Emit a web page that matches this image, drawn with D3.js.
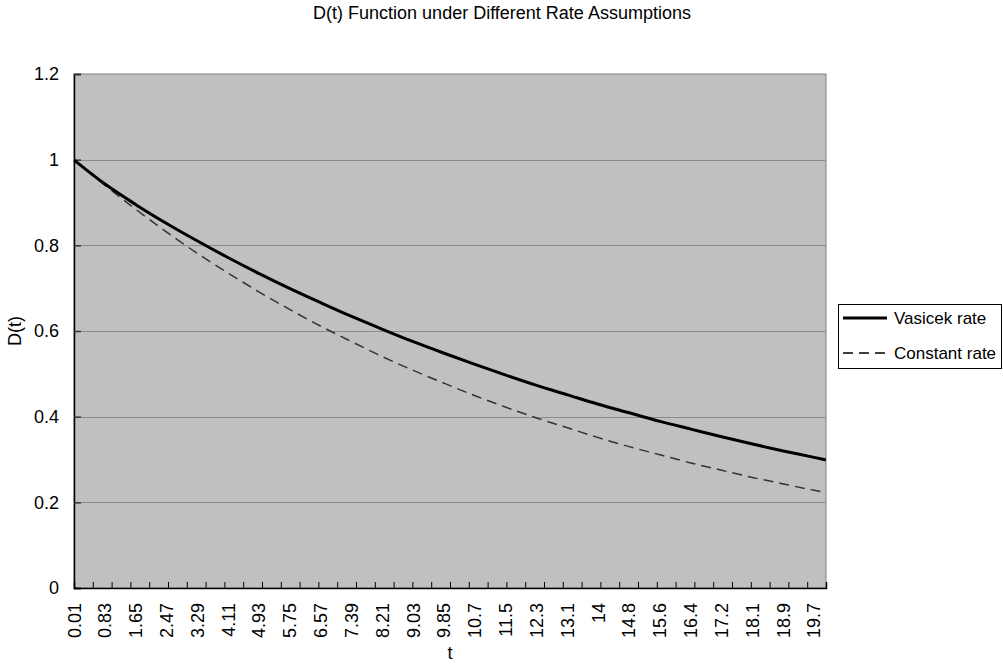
<!DOCTYPE html>
<html lang="en">
<head>
  <meta charset="UTF-8">
  <title>D(t) Function under Different Rate Assumptions</title>
  <script src="https://d3js.org/d3.v7.min.js"></script>
  <style>
    body { margin: 0; background: #fff; }
    text { font-family: "Liberation Sans", Arial, sans-serif; fill: #000; }
  </style>
</head>
<body>
  <svg width="1003" height="664"></svg>

  <script>
    const tValues = [0.01, 0.83, 1.65, 2.47, 3.29, 4.11, 4.93, 5.75, 6.57, 7.39, 8.21, 9.03, 9.85,
      10.67, 11.49, 12.31, 13.13, 13.95, 14.77, 15.59, 16.41, 17.23, 18.05, 18.87, 19.69, 20.0];

    // D(t), Vasicek rate
    const vasicek = [0.999, 0.943, 0.895, 0.851, 0.810, 0.771, 0.734, 0.699, 0.666, 0.634, 0.604, 0.575, 0.548,
      0.522, 0.497, 0.473, 0.451, 0.429, 0.409, 0.389, 0.371, 0.353, 0.336, 0.320, 0.305, 0.299];

    // D(t), constant rate
    const constant = [0.999, 0.940, 0.884, 0.831, 0.781, 0.735, 0.691, 0.650, 0.611, 0.575, 0.540, 0.508, 0.478,
      0.449, 0.422, 0.397, 0.374, 0.351, 0.330, 0.311, 0.292, 0.275, 0.258, 0.243, 0.228, 0.223];

    // category labels shown on the x axis
    const xLabelT = [0.01, 0.83, 1.65, 2.47, 3.29, 4.11, 4.93, 5.75, 6.57, 7.39, 8.21, 9.03, 9.85,
      10.67, 11.49, 12.31, 13.13, 13.95, 14.77, 15.59, 16.41, 17.23, 18.05, 18.87, 19.69];
    const xLabelText = ["0.01", "0.83", "1.65", "2.47", "3.29", "4.11", "4.93", "5.75", "6.57", "7.39", "8.21",
      "9.03", "9.85", "10.7", "11.5", "12.3", "13.1", "14", "14.8", "15.6", "16.4", "17.2", "18.1", "18.9", "19.7"];

    const yTicks = [0, 0.2, 0.4, 0.6, 0.8, 1, 1.2];
    const yTickLabels = ["0", "0.2", "0.4", "0.6", "0.8", "1", "1.2"];

    const seriesNames = ["Vasicek rate", "Constant rate"];

    const svg = d3.select("svg");
    const plotLeft = 74, plotRight = 826, plotTop = 74, plotBottom = 588;
    const fontSize = 18;

    const x = d3.scaleLinear().domain([0.005, 20.005]).range([plotLeft, plotRight]);
    const y = d3.scaleLinear().domain([0, 1.2]).range([plotBottom, plotTop]);

    // plot background
    svg.append("rect")
      .attr("x", plotLeft).attr("y", plotTop)
      .attr("width", plotRight - plotLeft).attr("height", plotBottom - plotTop)
      .attr("fill", "#c0c0c0")
      .attr("stroke", "#808080")
      .attr("stroke-width", 1);

    // horizontal gridlines
    svg.append("g")
      .selectAll("line")
      .data(yTicks.slice(1, -1))
      .enter().append("line")
      .attr("x1", plotLeft).attr("x2", plotRight)
      .attr("y1", d => Math.round(y(d)) + 0.5).attr("y2", d => Math.round(y(d)) + 0.5)
      .attr("stroke", "#8c8c8c")
      .attr("stroke-width", 1);

    // y axis
    const yAxis = svg.append("g")
      .attr("transform", `translate(${plotLeft},0)`)
      .call(d3.axisLeft(y).tickValues(yTicks).tickSize(-7).tickPadding(15)
        .tickFormat((d, i) => yTickLabels[i]));
    yAxis.select(".domain").attr("stroke", "#000").attr("stroke-width", 1.5);
    yAxis.selectAll(".tick line").attr("stroke", "#333").attr("stroke-width", 1.5);
    yAxis.selectAll("text").style("font-size", fontSize + "px")
      .attr("font-family", "Liberation Sans, Arial, sans-serif");

    // x axis minor tick marks (every 0.5 of t)
    const tickT = d3.range(0, 41).map(k => 0.005 + 0.5 * k);
    const xTicks = svg.append("g")
      .attr("transform", `translate(0,${plotBottom})`)
      .call(d3.axisBottom(x).tickValues(tickT).tickSize(-6).tickFormat(""));
    xTicks.select(".domain").attr("stroke", "#000").attr("stroke-width", 1.5);
    xTicks.selectAll(".tick line").attr("stroke", "#000");

    // x axis labels, rotated
    svg.append("g")
      .selectAll("text")
      .data(xLabelT)
      .enter().append("text")
      .attr("transform", d => `translate(${x(d)},${plotBottom + 15}) rotate(-90)`)
      .attr("dy", "0.35em")
      .attr("text-anchor", "end")
      .style("font-size", fontSize + "px")
      .text((d, i) => xLabelText[i]);

    // lines
    const line = d3.line()
      .x((d, i) => x(tValues[i]))
      .y(d => y(d))
      .curve(d3.curveMonotoneX);

    svg.append("path")
      .datum(constant)
      .attr("d", line)
      .attr("fill", "none")
      .attr("stroke", "#333")
      .attr("stroke-width", 1.5)
      .attr("stroke-dasharray", "10,6");

    svg.append("path")
      .datum(vasicek)
      .attr("d", line)
      .attr("fill", "none")
      .attr("stroke", "#000")
      .attr("stroke-width", 3);

    // title and axis titles
    svg.append("text")
      .attr("x", 502).attr("y", 19)
      .attr("text-anchor", "middle")
      .style("font-size", fontSize + "px")
      .text("D(t) Function under Different Rate Assumptions");

    svg.append("text")
      .attr("x", 450).attr("y", 659)
      .attr("text-anchor", "middle")
      .style("font-size", fontSize + "px")
      .text("t");

    svg.append("text")
      .attr("transform", "translate(21,331) rotate(-90)")
      .attr("text-anchor", "middle")
      .style("font-size", fontSize + "px")
      .text("D(t)");

    // legend
    const legend = svg.append("g");
    legend.append("rect")
      .attr("x", 838.5).attr("y", 304.5)
      .attr("width", 163).attr("height", 64)
      .attr("fill", "#fff")
      .attr("stroke", "#000");

    const legendY = [318, 353];
    const legendStyles = [{ stroke: "#000", width: 3, dash: null }, { stroke: "#000", width: 1.5, dash: "10,6" }];
    seriesNames.forEach((name, i) => {
      legend.append("line")
        .attr("x1", 843).attr("x2", 887)
        .attr("y1", legendY[i]).attr("y2", legendY[i])
        .attr("stroke", legendStyles[i].stroke)
        .attr("stroke-width", legendStyles[i].width)
        .attr("stroke-dasharray", legendStyles[i].dash);
      legend.append("text")
        .attr("x", 894).attr("y", legendY[i])
        .attr("dy", "0.35em")
        .style("font-size", "17px")
        .text(name);
    });
  </script>
</body>
</html>
